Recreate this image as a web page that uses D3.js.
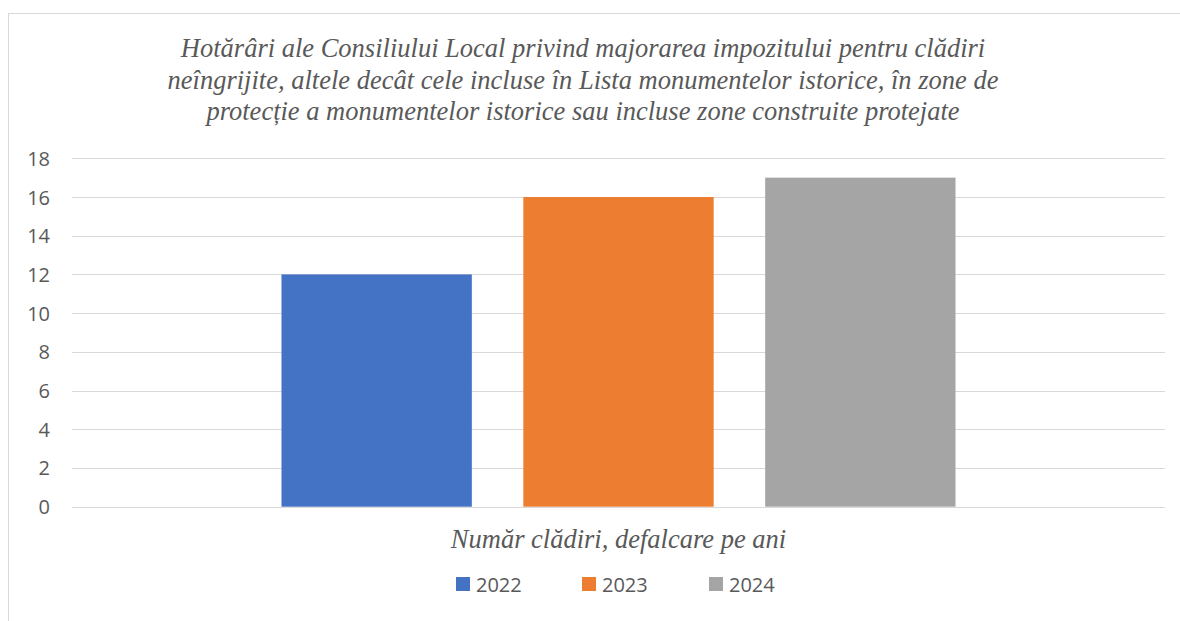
<!DOCTYPE html>
<html>
<head>
<meta charset="utf-8">
<script src="https://cdn.jsdelivr.net/npm/d3@7"></script>
<style>
  html, body { margin: 0; padding: 0; background: #fff; }
  svg { display: block; }
</style>
</head>
<body>
<svg id="chart" width="1180" height="621"></svg>
<script>
// ---- data ----
const titleLines = [
  "Hotărâri ale Consiliului Local privind majorarea impozitului pentru clădiri",
  "neîngrijite, altele decât cele incluse în Lista monumentelor istorice, în zone de",
  "protecție a monumentelor istorice sau incluse zone construite protejate"
];
const categories = ["Număr clădiri, defalcare pe ani"];
const seriesNames = ["2022", "2023", "2024"];
const seriesValues = [12, 16, 17];
const seriesColors = ["#4472C4", "#ED7D31", "#A5A5A5"];
const yTicks = [0, 2, 4, 6, 8, 10, 12, 14, 16, 18];

// ---- layout ----
const svg = d3.select("#chart");
const W = 1180, H = 621;
const plot = { left: 72, right: 1165, top: 158.3, bottom: 506.7 };
const textColor = "#595959";
const gridColor = "#d9d9d9";

// chart border
svg.append("rect")
  .attr("x", 8.5).attr("y", 13.5)
  .attr("width", W + 10).attr("height", H + 10)
  .attr("fill", "#fff").attr("stroke", gridColor).attr("stroke-width", 1);

// title
const title = svg.append("text")
  .attr("text-anchor", "middle")
  .attr("font-family", "'Liberation Serif', serif")
  .attr("font-style", "italic")
  .attr("font-size", 26.5)
  .attr("fill", textColor);
titleLines.forEach((t, i) => {
  title.append("tspan").attr("x", 583).attr("y", 57.3 + i * 31.5).text(t);
});

// scales
const y = d3.scaleLinear().domain([0, 18]).range([plot.bottom, plot.top]);
const x0 = d3.scaleBand().domain(categories).range([plot.left, plot.right])
  .paddingInner(0).paddingOuter(0.3108);
const x1 = d3.scaleBand().domain(seriesNames).range([0, x0.bandwidth()])
  .paddingInner(0.213).paddingOuter(0);

// gridlines
svg.append("g")
  .selectAll("line").data(yTicks).join("line")
  .attr("x1", plot.left).attr("x2", plot.right)
  .attr("y1", d => Math.round(y(d)) + 0.5).attr("y2", d => Math.round(y(d)) + 0.5)
  .attr("stroke", gridColor).attr("stroke-width", 1.2);

// y axis labels
const yAxis = d3.axisLeft(y).tickValues(yTicks).tickSize(0).tickPadding(0);
const yg = svg.append("g").attr("transform", `translate(${plot.left - 22},0)`).call(yAxis);
yg.select(".domain").remove();
yg.selectAll("text")
  .attr("font-family", "'Open Sans', 'Liberation Sans', sans-serif")
  .attr("font-size", 20)
  .attr("fill", textColor)
  .attr("dy", "0.35em");

// bars
const group = svg.append("g").selectAll("g").data(categories).join("g")
  .attr("transform", d => `translate(${x0(d)},0)`);
group.selectAll("rect")
  .data(seriesNames.map((s, i) => ({ name: s, value: seriesValues[i], color: seriesColors[i] })))
  .join("rect")
  .attr("x", d => x1(d.name))
  .attr("width", x1.bandwidth())
  .attr("y", d => y(d.value))
  .attr("height", d => y(0) - y(d.value))
  .attr("fill", d => d.color);

// x axis (category label)
const xAxis = d3.axisBottom(x0).tickSize(0).tickPadding(0);
const xg = svg.append("g").attr("transform", `translate(0,${plot.bottom})`).call(xAxis);
xg.select(".domain").remove();
xg.selectAll("text")
  .attr("font-family", "'Liberation Serif', serif")
  .attr("font-style", "italic")
  .attr("font-size", 26.5)
  .attr("fill", textColor)
  .attr("dy", 0)
  .attr("y", 548 - plot.bottom);

// legend
const legendX = [456, 582, 709];
const legend = svg.append("g").selectAll("g")
  .data(seriesNames.map((s, i) => ({ name: s, color: seriesColors[i], x: legendX[i] })))
  .join("g")
  .attr("transform", d => `translate(${d.x},577)`);
legend.append("rect").attr("width", 14).attr("height", 14).attr("fill", d => d.color);
legend.append("text")
  .attr("x", 20).attr("y", 14.5)
  .attr("font-family", "'Open Sans', 'Liberation Sans', sans-serif")
  .attr("font-size", 20)
  .attr("fill", textColor)
  .text(d => d.name);
</script>
</body>
</html>
